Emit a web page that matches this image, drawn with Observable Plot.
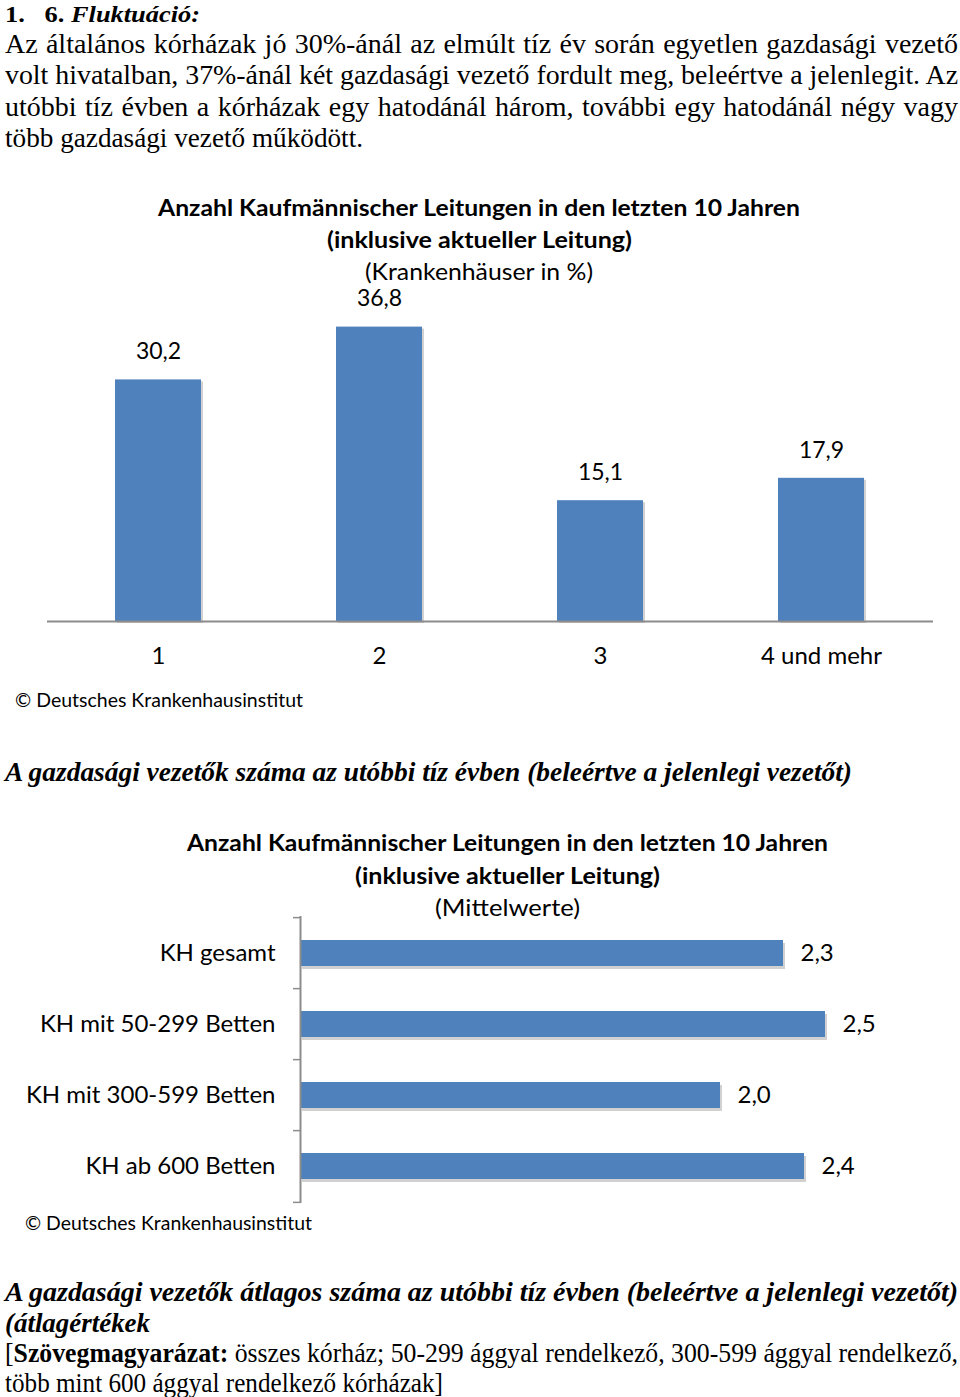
<!DOCTYPE html>
<html><head><meta charset="utf-8">
<script src="https://cdn.jsdelivr.net/npm/d3@7"></script>
<script src="https://cdn.jsdelivr.net/npm/@observablehq/plot@0.6"></script>
<style>
html,body{margin:0;padding:0;background:#fff;}
#page{position:relative;width:960px;height:1397px;overflow:hidden;background:#fff;}
.t{position:absolute;white-space:nowrap;line-height:1;transform-origin:0 0;color:#000;}
.serif{font-family:"Liberation Serif","Times New Roman",serif;}
.sans{font-family:Lato,"Open Sans",sans-serif;}
.chart{position:absolute;left:0;}
</style></head><body><div id="page"></div>
<script>
// ---- data ----
const countCategories = ["1", "2", "3", "4 und mehr"];
const countValues = [30.2, 36.8, 15.1, 17.9];
const sizeCategories = ["KH gesamt", "KH mit 50-299 Betten", "KH mit 300-599 Betten", "KH ab 600 Betten"];
const sizeValues = [2.3, 2.5, 2.0, 2.4];

const titleLine1 = "Anzahl Kaufmännischer Leitungen in den letzten 10 Jahren";
const titleLine2 = "(inklusive aktueller Leitung)";
const subtitle1 = "(Krankenhäuser in %)";
const subtitle2 = "(Mittelwerte)";
const source = "© Deutsches Krankenhausinstitut";

const countData = countCategories.map((c, i) => ({cat: c, value: countValues[i]}));
const sizeData = sizeCategories.map((c, i) => ({cat: c, value: sizeValues[i]}));
const fmt = v => v.toFixed(1).replace(".", ",");

const page = document.getElementById("page");
const BLUE = "#4f81bd";

function addLine(html, o) {
  const el = document.createElement("div");
  el.className = "t " + o.cls;
  el.style.fontSize = o.size + "px";
  if (o.weight) el.style.fontWeight = o.weight;
  if (o.italic) el.style.fontStyle = "italic";
  el.style.top = (o.cy - o.size / 2) + "px";
  el.innerHTML = html;
  page.appendChild(el);
  const w = el.getBoundingClientRect().width;
  const left = o.cx != null ? o.cx - o.width / 2 : o.x;
  el.style.left = left + "px";
  if (o.width) {
    if (o.justify && w < o.width) {
      el.style.width = o.width + "px";
      el.style.whiteSpace = "normal";
      el.style.textAlign = "justify";
      el.style.textAlignLast = "justify";
    } else {
      el.style.transform = `scaleX(${o.width / w})`;
    }
  }
  return el;
}

// ---- top text ----
addLine("<b>1.</b>&nbsp;&nbsp; <b>6. <i>Fluktuáció:</i></b>", {cls: "serif", size: 24, x: 5, cy: 14, width: 195});
addLine("Az általános kórházak jó 30%-ánál az elmúlt tíz év során egyetlen gazdasági vezető", {cls: "serif", size: 28, x: 5, cy: 43.5, width: 953, justify: true});
addLine("volt hivatalban, 37%-ánál két gazdasági vezető fordult meg, beleértve a jelenlegit. Az", {cls: "serif", size: 28, x: 5, cy: 75, width: 953, justify: true});
addLine("utóbbi tíz évben a kórházak egy hatodánál három, további egy hatodánál négy vagy", {cls: "serif", size: 28, x: 5, cy: 106.5, width: 953, justify: true});
addLine("több gazdasági vezető működött.", {cls: "serif", size: 28, x: 5, cy: 138, width: 358});

// ---- chart 1 titles ----
addLine(titleLine1, {cls: "sans", size: 23, weight: 700, cx: 479, cy: 207, width: 642});
addLine(titleLine2, {cls: "sans", size: 23, weight: 700, cx: 479.5, cy: 239, width: 305});
addLine(subtitle1, {cls: "sans", size: 23, cx: 479, cy: 271, width: 228});

// ---- chart 1 ----
const chart1 = Plot.plot({
  width: 960, height: 400,
  marginTop: 21, marginBottom: 59, marginLeft: 47, marginRight: 27,
  x: {domain: countCategories, paddingInner: 0.61, paddingOuter: 0.305},
  y: {domain: [0, 40], axis: null},
  style: {fontFamily: "Lato, sans-serif", fontSize: "24px", color: "#000", background: "transparent"},
  marks: [
    Plot.barY(countData, {x: "cat", y: "value", fill: "#9a9a9a", fillOpacity: 0.45, dx: 2, dy: 2}),
    Plot.barY(countData, {x: "cat", y: "value", fill: BLUE}),
    Plot.ruleY([0], {stroke: "#8c8c8c", strokeWidth: 2}),
    Plot.axisX({tickSize: 0, tickPadding: 25, fontSize: 24, label: null}),
    Plot.text(countData, {x: "cat", y: "value", text: d => fmt(d.value), dy: -28, fontSize: 23, fill: "#000"})
  ]
});
chart1.classList.add("chart");
chart1.style.top = "280px";
page.appendChild(chart1);

addLine(source, {cls: "sans", size: 20, x: 15, cy: 699, width: 288});

// ---- caption 1 ----
addLine("A gazdasági vezetők száma az utóbbi tíz évben (beleértve a jelenlegi vezetőt)", {cls: "serif", size: 27, weight: 700, italic: true, x: 5, cy: 772, width: 847});

// ---- chart 2 titles ----
addLine(titleLine1, {cls: "sans", size: 23, weight: 700, cx: 507.5, cy: 842, width: 641});
addLine(titleLine2, {cls: "sans", size: 23, weight: 700, cx: 507.5, cy: 875, width: 305});
addLine(subtitle2, {cls: "sans", size: 23, cx: 507.5, cy: 907, width: 145});

// ---- chart 2 ----
const bandHalf = (1203 - 916) / 4 / 2;
const chart2 = Plot.plot({
  width: 960, height: 320,
  marginTop: 16, marginBottom: 17, marginLeft: 300, marginRight: 30,
  x: {domain: [0, 3], axis: null},
  y: {domain: sizeCategories, paddingInner: 0.64, paddingOuter: 0.32},
  style: {fontFamily: "Lato, sans-serif", fontSize: "24px", color: "#000", background: "transparent"},
  marks: [
    Plot.barX(sizeData, {x: "value", y: "cat", fill: "#9a9a9a", fillOpacity: 0.45, dx: 2, dy: 3}),
    Plot.barX(sizeData, {x: "value", y: "cat", fill: BLUE}),
    Plot.ruleX([0], {stroke: "#8c8c8c", strokeWidth: 2}),
    Plot.axisY({tickSize: 7, text: null, dy: -bandHalf, stroke: "#8c8c8c", strokeWidth: 1.5, label: null}),
    Plot.axisY({ticks: [sizeCategories[sizeCategories.length - 1]], tickSize: 7, text: null, dy: bandHalf, stroke: "#8c8c8c", strokeWidth: 1.5, label: null}),
    Plot.axisY({tickSize: 0, tickPadding: 25, fontSize: 24, label: null}),
    Plot.text(sizeData, {x: "value", y: "cat", text: d => fmt(d.value), dx: 17, textAnchor: "start", fontSize: 24, fill: "#000"})
  ]
});
chart2.classList.add("chart");
chart2.style.top = "900px";
page.appendChild(chart2);

addLine(source, {cls: "sans", size: 20, x: 25, cy: 1222, width: 287});

// ---- caption 2 ----
addLine("A gazdasági vezetők átlagos száma az utóbbi tíz évben (beleértve a jelenlegi vezetőt)", {cls: "serif", size: 27, weight: 700, italic: true, x: 5, cy: 1292, width: 953});
addLine("(átlagértékek", {cls: "serif", size: 27, weight: 700, italic: true, x: 5, cy: 1323, width: 145});
addLine("[<b>Szövegmagyarázat:</b> összes kórház; 50-299 ággyal rendelkező, 300-599 ággyal rendelkező,", {cls: "serif", size: 27, x: 5, cy: 1353, width: 953, justify: true});
addLine("több mint 600 ággyal rendelkező kórházak]", {cls: "serif", size: 27, x: 5, cy: 1383, width: 438});
</script>
</body></html>
